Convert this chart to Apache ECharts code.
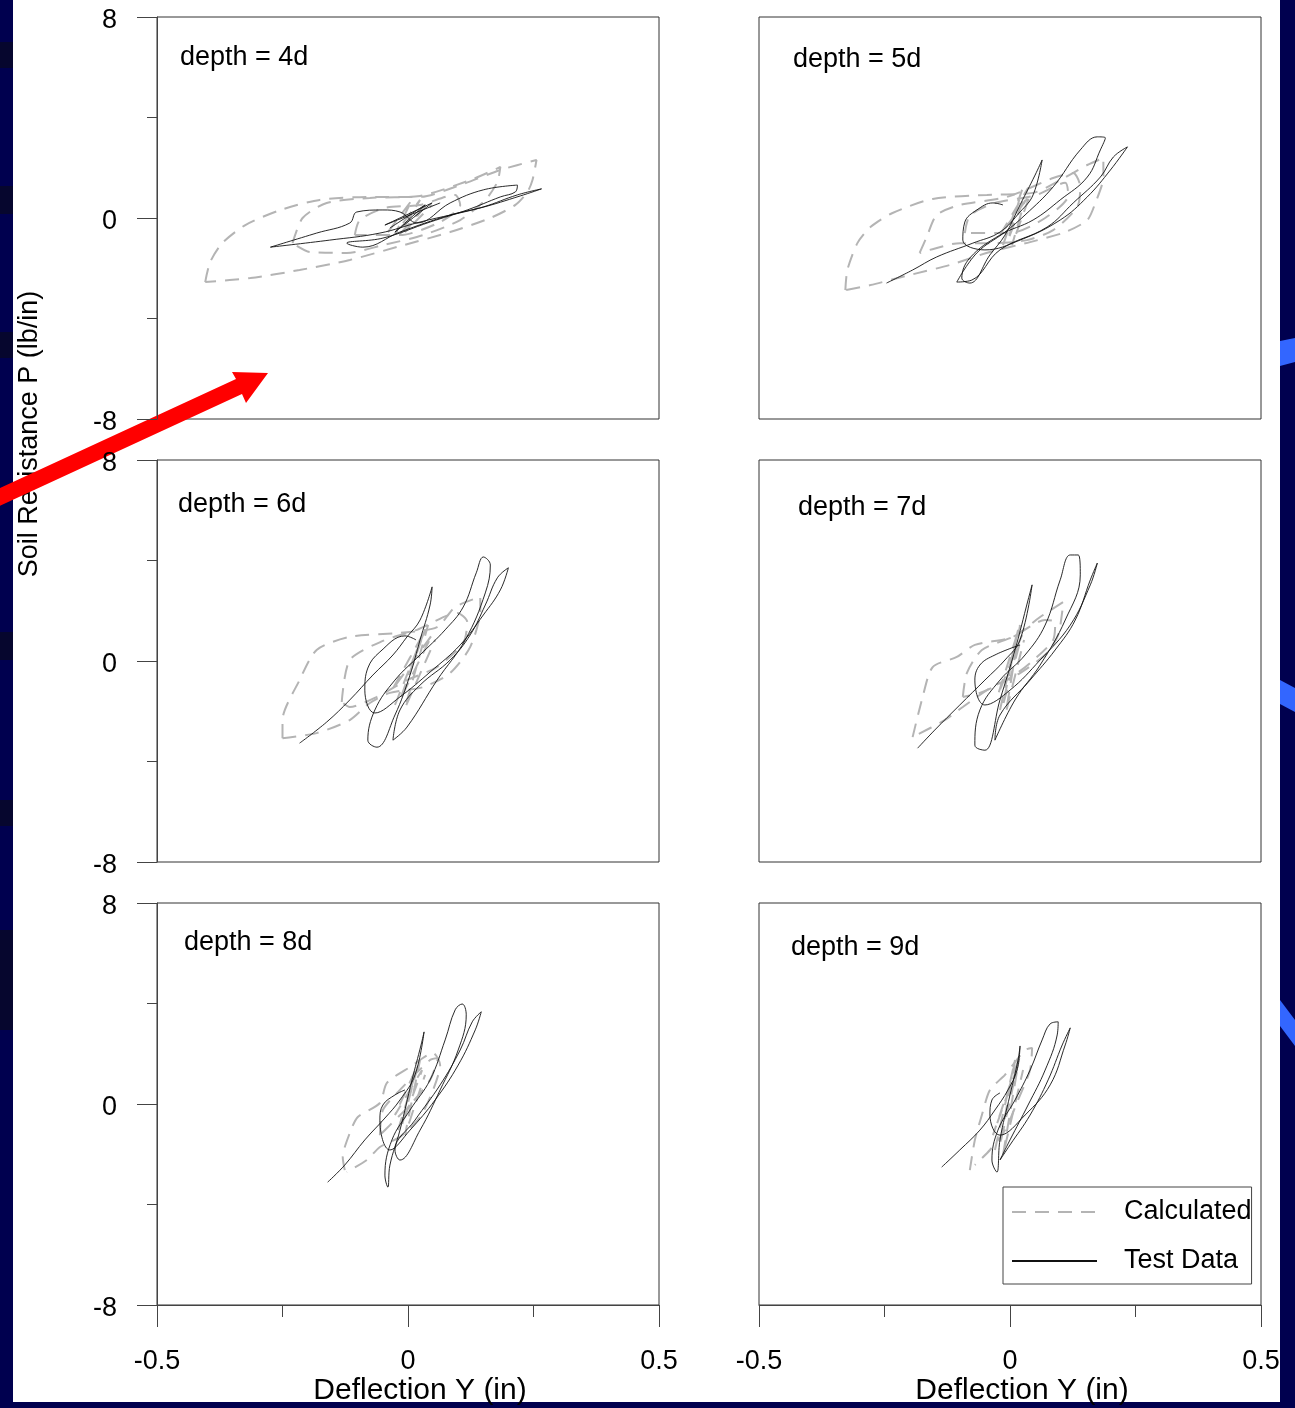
<!DOCTYPE html>
<html>
<head>
<meta charset="utf-8">
<script src="https://cdn.jsdelivr.net/npm/echarts@6/dist/echarts.min.js"></script>
<style>
html, body { margin: 0; padding: 0; background: #fff; }
#chart { width: 1295px; height: 1408px; }
</style>
</head>
<body>
<div id="chart"></div>
<script>
// panel labels
var depths = ['depth = 4d', 'depth = 5d', 'depth = 6d', 'depth = 7d', 'depth = 8d', 'depth = 9d'];
var xTicks = [-0.5, 0, 0.5];
var yTicks = [-8, 0, 8];

// ---- depth = 4d ----
var calc4dOuter = [[-0.404,-2.55],[-0.394,-1.75],[-0.37,-1.0],[-0.324,-0.28],[-0.254,0.32],[-0.176,0.72],[-0.076,0.84],[0.024,0.84],[0.104,1.31],[0.184,1.91],[0.256,2.31],[0.248,1.51],[0.238,1.04],[0.214,0.52],[0.164,0],[0.084,-0.56],[-0.016,-1.12],[-0.116,-1.67],[-0.216,-2.07],[-0.314,-2.39],[-0.404,-2.55]];
var calc4dInner = [[-0.23,-1.0],[-0.21,0],[-0.162,0.6],[-0.076,0.8],[0.024,0.88],[0.124,1.51],[0.184,2.03],[0.178,1.43],[0.154,0.72],[0.104,-0.08],[0.03,-0.68],[-0.05,-1.08],[-0.122,-1.39],[-0.196,-1.35],[-0.23,-1.0]];
var calc4dSmall = [[-0.106,-0.68],[-0.096,-0.08],[-0.046,0.4],[0.024,0.52],[0.094,0.92],[0.104,0.52],[0.064,-0.16],[-0.016,-0.68],[-0.106,-0.68]];
var calc4dCore = [[-0.04,-0.56],[0.008,0.72],[-0.026,-0.64],[0.024,0.72],[-0.016,-0.64],[0.04,0.64],[-0.006,-0.56],[0.048,0.52]];
var test4d = [[-0.274,-1.16],[-0.182,-0.60],[-0.116,-0.20],[-0.102,0.24],[-0.05,0.32],[-0.016,0.24],[0.018,-0.20],[0.084,0.60],[0.15,1.12],[0.218,1.31],[0.214,1.04],[0.184,0.84],[0.118,0.32],[0.044,-0.16],[-0.05,-0.80],[-0.122,-1.0],[-0.09,-1.16],[-0.016,-0.56],[0.084,0.12],[0.15,0.44],[0.218,0.92],[0.266,1.16],[0.224,0.88],[0.144,0.40],[0.024,-0.16],[-0.056,-0.60],[-0.156,-0.88],[-0.274,-1.16]];
var test4dCore = [[-0.036,-0.40],[0.034,0.52],[-0.026,-0.56],[0.048,0.60],[-0.046,-0.28],[0.064,0.6]];

// ---- depth = 5d ----
var calc5dOuter = [[-0.328,-2.87],[-0.324,-2.07],[-0.304,-1.0],[-0.278,-0.36],[-0.234,0.20],[-0.154,0.76],[-0.046,0.92],[0.046,1.0],[0.1,1.51],[0.154,2.11],[0.186,2.39],[0.186,1.63],[0.17,0.60],[0.154,-0.08],[0.11,-0.56],[0.04,-0.96],[-0.04,-1.35],[-0.12,-1.87],[-0.2,-2.27],[-0.278,-2.67],[-0.328,-2.87]];
var calc5dInner = [[-0.18,-1.39],[-0.166,-0.76],[-0.146,0.12],[-0.1,0.52],[-0.006,0.84],[0.086,1.59],[0.126,1.79],[0.14,1.24],[0.134,0.44],[0.086,-0.48],[0.034,-0.88],[-0.034,-1.0],[-0.1,-1.0],[-0.16,-1.27],[-0.18,-1.39]];
var calc5dSmall = [[-0.09,-0.6],[-0.08,0.1],[-0.03,0.6],[0.05,0.9],[0.11,1.4],[0.116,0.9],[0.07,0.0],[0.0,-0.6],[-0.09,-0.6]];
var calc5dCore = [[-0.014,-1.08],[0.024,1.12],[-0.004,-0.88],[0.036,1.2],[-0.02,-0.68],[0.04,0.92],[0.004,-1.08],[0.03,0.72]];
var test5d = [[-0.246,-2.59],[-0.194,-2.07],[-0.146,-1.55],[-0.074,-1.0],[-0.02,-0.56],[0.02,0.24],[0.046,0.92],[0.064,2.31],[0.05,1.71],[0.02,0.52],[-0.01,-0.68],[-0.04,-1.47],[-0.08,-2.59],[-0.096,-2.39],[-0.08,-1.59],[-0.02,-0.68],[0.046,-0.08],[0.1,0.72],[0.154,1.63],[0.18,2.71],[0.19,3.19],[0.174,3.23],[0.14,2.71],[0.086,1.24],[0.03,0.12],[-0.01,-0.56],[-0.066,-1.39],[-0.106,-2.55],[-0.076,-2.47],[-0.02,-1.27],[0.074,-0.36],[0.126,0.60],[0.18,1.63],[0.206,2.43],[0.234,2.83],[0.2,1.91],[0.154,0.84],[0.1,-0.08],[0.02,-0.88],[-0.05,-1.27],[-0.094,-0.88],[-0.09,-0.16],[-0.066,0.32],[-0.034,0.60],[-0.014,0.52]];

// ---- depth = 6d ----
var calc6dOuter = [[-0.25,-3.07],[-0.25,-2.35],[-0.216,-0.76],[-0.182,0.44],[-0.116,0.96],[-0.016,1.12],[0.058,1.35],[0.094,2.15],[0.144,2.55],[0.144,2.03],[0.124,0.56],[0.084,-0.48],[0.03,-1.04],[-0.036,-1.27],[-0.076,-1.67],[-0.116,-2.35],[-0.182,-2.87],[-0.25,-3.07]];
var calc6dInner = [[-0.132,-1.63],[-0.116,0.04],[-0.05,0.80],[0.018,1.24],[0.098,1.91],[0.118,1.55],[0.11,0.72],[0.058,-0.24],[-0.002,-0.76],[-0.062,-1.43],[-0.116,-1.83],[-0.132,-1.63]];
var calc6dCore = [[-0.026,-1.75],[0.034,1.24],[-0.016,-1.55],[0.048,1.04],[-0.032,-1.16],[0.04,1.43],[-0.006,-1.87],[0.054,0.84]];
var test6d = [[-0.216,-3.27],[-0.162,-2.43],[-0.116,-1.55],[-0.07,-0.56],[-0.03,0.24],[-0.002,0.96],[0.024,1.63],[0.048,2.95],[0.044,2.23],[0.024,0.84],[0.004,-0.56],[-0.026,-2.15],[-0.062,-3.43],[-0.08,-3.15],[-0.066,-1.95],[-0.026,-0.76],[0.024,0.24],[0.074,1.24],[0.11,2.15],[0.136,3.51],[0.15,4.14],[0.164,3.82],[0.154,2.71],[0.114,0.84],[0.058,-0.76],[-0.002,-2.63],[-0.03,-3.15],[-0.016,-1.95],[0.024,-0.96],[0.084,0.04],[0.124,1.04],[0.154,2.23],[0.178,3.31],[0.2,3.71],[0.184,2.83],[0.15,1.83],[0.104,0.64],[0.044,-0.44],[-0.016,-1.43],[-0.066,-2.07],[-0.086,-1.16],[-0.08,-0.28],[-0.056,0.36],[-0.006,1.0],[0.016,0.84]];

// ---- depth = 7d ----
var calc7dOuter = [[-0.194,-3.03],[-0.174,-1.43],[-0.154,-0.24],[-0.106,0.16],[-0.07,0.64],[0.006,0.96],[0.06,1.75],[0.106,2.35],[0.104,1.95],[0.096,1.04],[0.074,0.32],[0.02,-0.48],[-0.04,-1.08],[-0.094,-1.83],[-0.13,-2.35],[-0.186,-2.95],[-0.194,-3.03]];
var calc7dInner = [[-0.094,-1.43],[-0.086,-0.48],[-0.056,0.44],[0.006,0.96],[0.07,1.63],[0.09,1.55],[0.086,0.84],[0.04,-0.08],[-0.006,-0.76],[-0.06,-1.27],[-0.094,-1.43]];
var calc7dCore = [[-0.02,-1.95],[0.016,1.24],[-0.014,-1.75],[0.024,1.04],[-0.024,-1.35],[0.02,1.43],[-0.008,-2.03],[0.028,0.84]];
var test7d = [[-0.184,-3.47],[-0.15,-2.75],[-0.1,-1.75],[-0.05,-0.76],[-0.01,0.04],[0.02,0.84],[0.044,3.03],[0.036,2.43],[0.01,0.44],[-0.02,-1.55],[-0.05,-3.55],[-0.07,-3.35],[-0.06,-1.95],[-0.02,-0.76],[0.03,0.24],[0.07,1.43],[0.1,3.23],[0.12,4.22],[0.136,4.22],[0.14,3.43],[0.11,1.63],[0.06,-0.16],[0.01,-1.55],[-0.03,-3.15],[-0.02,-2.15],[0.04,-0.76],[0.09,0.44],[0.13,1.63],[0.16,3.23],[0.174,3.90],[0.16,3.03],[0.12,1.43],[0.06,0.04],[0.0,-1.16],[-0.05,-1.75],[-0.07,-0.76],[-0.06,-0.16],[-0.03,0.24],[0.02,0.64]];

// ---- depth = 8d ----
var calc8dOuter = [[-0.126,-2.63],[-0.13,-2.11],[-0.116,-1.16],[-0.1,-0.52],[-0.056,0.04],[-0.042,0.84],[0.004,1.47],[0.05,2.03],[0.064,1.55],[0.05,0.56],[0.024,-0.52],[-0.016,-1.31],[-0.056,-1.71],[-0.082,-2.23],[-0.122,-2.71]];
var calc8dInner = [[-0.056,-1.24],[-0.05,-0.24],[-0.016,0.56],[0.044,1.75],[0.06,1.83],[0.044,0.96],[0.004,-0.04],[-0.036,-0.84],[-0.056,-1.24]];
var calc8dCore = [[-0.02,-1.04],[0.02,1.55],[-0.012,-0.84],[0.028,1.35],[-0.026,-0.44],[0.024,1.75],[-0.006,-1.24],[0.034,1.16]];
var test8d = [[-0.16,-3.11],[-0.126,-2.43],[-0.086,-1.43],[-0.046,-0.56],[-0.016,0.16],[0.014,1.16],[0.032,2.87],[0.026,2.35],[0.008,0.96],[-0.016,-1.04],[-0.036,-2.43],[-0.04,-3.31],[-0.046,-2.83],[-0.032,-1.43],[0.004,-0.24],[0.044,0.96],[0.074,2.55],[0.094,3.75],[0.108,3.98],[0.116,3.55],[0.1,2.15],[0.064,0.56],[0.024,-1.04],[-0.016,-2.23],[-0.026,-1.83],[0.014,-0.64],[0.064,0.76],[0.104,2.15],[0.128,3.27],[0.146,3.67],[0.134,2.95],[0.1,1.55],[0.054,0.16],[0.004,-1.04],[-0.036,-1.83],[-0.056,-0.64],[-0.05,-0.04],[-0.026,0.36],[-0.006,0.56]];

// ---- depth = 9d ----
var calc9dOuter = [[-0.08,-2.63],[-0.07,-1.43],[-0.056,-0.44],[-0.04,0.56],[-0.01,1.16],[0.03,2.15],[0.044,2.23],[0.04,1.35],[0.016,0.16],[-0.01,-1.04],[-0.04,-1.83],[-0.07,-2.43]];
var calc9dCore = [[-0.03,-1.83],[0.01,1.75],[-0.02,-1.63],[0.02,1.95],[-0.034,-1.24],[0.016,1.55],[-0.014,-2.03],[0.026,1.35]];
var test9d = [[-0.136,-2.51],[-0.1,-1.83],[-0.06,-1.04],[-0.03,-0.24],[-0.004,0.56],[0.014,1.35],[0.02,2.31],[0.016,1.75],[0.0,0.36],[-0.02,-1.43],[-0.026,-2.71],[-0.036,-2.23],[-0.024,-1.04],[0.01,0.16],[0.04,1.35],[0.064,2.55],[0.08,3.19],[0.096,3.27],[0.094,2.75],[0.07,1.35],[0.036,-0.04],[0.0,-1.43],[-0.02,-2.23],[0.0,-1.63],[0.04,-0.44],[0.076,0.96],[0.104,2.35],[0.12,3.03],[0.11,2.35],[0.08,0.76],[0.03,-0.44],[-0.02,-1.24],[-0.04,-0.44],[-0.036,0.16],[-0.02,0.44]];

var calcLoops = [
    [calc4dOuter, calc4dInner, calc4dSmall, calc4dCore],
    [calc5dOuter, calc5dInner, calc5dSmall, calc5dCore],
    [calc6dOuter, calc6dInner, calc6dCore],
    [calc7dOuter, calc7dInner, calc7dCore],
    [calc8dOuter, calc8dInner, calc8dCore],
    [calc9dOuter, calc9dCore]
];
var testLoops = [
    [test4d, test4dCore],
    [test5d],
    [test6d],
    [test7d],
    [test8d],
    [test9d]
];

var FONT = 'Liberation Sans, Arial, sans-serif';
var colLeft = [157, 759];
var rowTop = [17, 460, 903];
var labelPos = [[180, 58], [793, 60], [178, 505], [798, 508], [184, 943], [791, 948]];

var grids = [], xAxes = [], yAxes = [], series = [], texts = [];

for (var i = 0; i < 6; i++) {
    var col = i % 2, row = Math.floor(i / 2);
    var bottom = row === 2;
    grids.push({
        left: colLeft[col], top: rowTop[row], width: 502, height: 402,
        show: true, borderColor: '#333', borderWidth: 1, backgroundColor: 'transparent'
    });
    xAxes.push({
        type: 'value', gridIndex: i, min: xTicks[0], max: xTicks[2], interval: 0.5,
        axisLine: { show: bottom, onZero: false, lineStyle: { color: '#444', width: 1 } },
        axisTick: { show: bottom, length: 22, lineStyle: { color: '#444' } },
        minorTick: { show: bottom, splitNumber: 2, length: 12, lineStyle: { color: '#444' } },
        axisLabel: { show: bottom, fontSize: 27, fontFamily: FONT, color: '#000', margin: 43 },
        splitLine: { show: false },
        name: bottom ? 'Deflection Y (in)' : '',
        nameLocation: 'middle', nameGap: 71,
        nameTextStyle: { fontSize: 30, fontFamily: FONT, color: '#000', padding: [0, 0, 0, 24] }
    });
    yAxes.push({
        type: 'value', gridIndex: i, min: yTicks[0], max: yTicks[2], interval: 8,
        axisLine: { show: col === 0, onZero: false, lineStyle: { color: '#444', width: 1 } },
        axisTick: { show: col === 0, length: 20, lineStyle: { color: '#444' } },
        minorTick: { show: col === 0, splitNumber: 2, length: 10, lineStyle: { color: '#444' } },
        axisLabel: {
            show: col === 0, margin: 40,
            formatter: function (v) { return '{v|' + v + '}'; },
            rich: { v: { fontSize: 27, fontFamily: FONT, color: '#000', padding: [8, 0, 0, 0] } }
        },
        splitLine: { show: false }
    });
    calcLoops[i].forEach(function (loop) {
        series.push({
            type: 'line', name: 'Calculated', xAxisIndex: i, yAxisIndex: i,
            data: loop, symbol: 'none', smooth: 0.25, silent: true,
            itemStyle: { color: '#b4b4b4' },
            lineStyle: { color: '#b4b4b4', width: 2, type: [14, 9] }
        });
    });
    testLoops[i].forEach(function (loop) {
        series.push({
            type: 'line', name: 'Test Data', xAxisIndex: i, yAxisIndex: i,
            data: loop, symbol: 'none', smooth: 0.4, silent: true,
            itemStyle: { color: '#111' },
            lineStyle: { color: '#111', width: 0.9 }
        });
    });
    texts.push({
        type: 'text', x: labelPos[i][0], y: labelPos[i][1],
        style: { text: depths[i], font: '27px ' + FONT, fill: '#000', verticalAlign: 'middle' }
    });
}

// frame of the slide behind the chart
var navy = '#00004f', navyDark = '#06062e', bright = '#3366ff';
var deco = [
    { type: 'rect', shape: { x: 0, y: 0, width: 13, height: 1408 }, style: { fill: navy } },
    { type: 'rect', shape: { x: 0, y: 42, width: 13, height: 26 }, style: { fill: navyDark } },
    { type: 'rect', shape: { x: 0, y: 186, width: 13, height: 28 }, style: { fill: navyDark } },
    { type: 'rect', shape: { x: 0, y: 332, width: 13, height: 26 }, style: { fill: navyDark } },
    { type: 'rect', shape: { x: 0, y: 632, width: 13, height: 28 }, style: { fill: navyDark } },
    { type: 'rect', shape: { x: 0, y: 800, width: 13, height: 26 }, style: { fill: navyDark } },
    { type: 'rect', shape: { x: 0, y: 930, width: 13, height: 100 }, style: { fill: navyDark } },
    { type: 'rect', shape: { x: 1280, y: 0, width: 15, height: 1408 }, style: { fill: navy } },
    { type: 'polygon', shape: { points: [[1280, 341], [1295, 338], [1295, 362], [1280, 366]] }, style: { fill: bright } },
    { type: 'polygon', shape: { points: [[1280, 680], [1295, 688], [1295, 712], [1280, 704]] }, style: { fill: bright } },
    { type: 'polygon', shape: { points: [[1280, 1000], [1295, 1020], [1295, 1046], [1280, 1026]] }, style: { fill: bright } },
    { type: 'rect', shape: { x: 0, y: 1402, width: 1295, height: 6 }, style: { fill: navy } },
    {
        type: 'polygon',
        shape: { points: [[-13, 494], [236, 379], [232, 372], [268, 373], [246, 403], [242, 394], [-7, 509]] },
        style: { fill: '#ff0000' }
    }
];

var yTitle = {
    type: 'text', x: 30, y: 434, rotation: Math.PI / 2,
    style: { text: 'Soil Resistance P (lb/in)', font: '27px ' + FONT, fill: '#000', align: 'center', verticalAlign: 'middle' }
};

var chart = echarts.init(document.getElementById('chart'));
chart.setOption({
    animation: false,
    backgroundColor: '#fff',
    grid: grids,
    xAxis: xAxes,
    yAxis: yAxes,
    legend: {
        data: ['Calculated', 'Test Data'],
        orient: 'vertical', left: 1003, top: 1187,
        padding: [10, 0, 8, 8], itemGap: 19, itemWidth: 85, itemHeight: 20,
        itemStyle: { opacity: 0 },
        borderColor: '#444', borderWidth: 1, backgroundColor: '#fff',
        textStyle: { fontSize: 27, fontFamily: FONT, color: '#000', padding: [0, 0, 0, 22], lineHeight: 30 }
    },
    graphic: { elements: texts.concat([yTitle]).concat(deco) },
    series: series
});
</script>
</body>
</html>
